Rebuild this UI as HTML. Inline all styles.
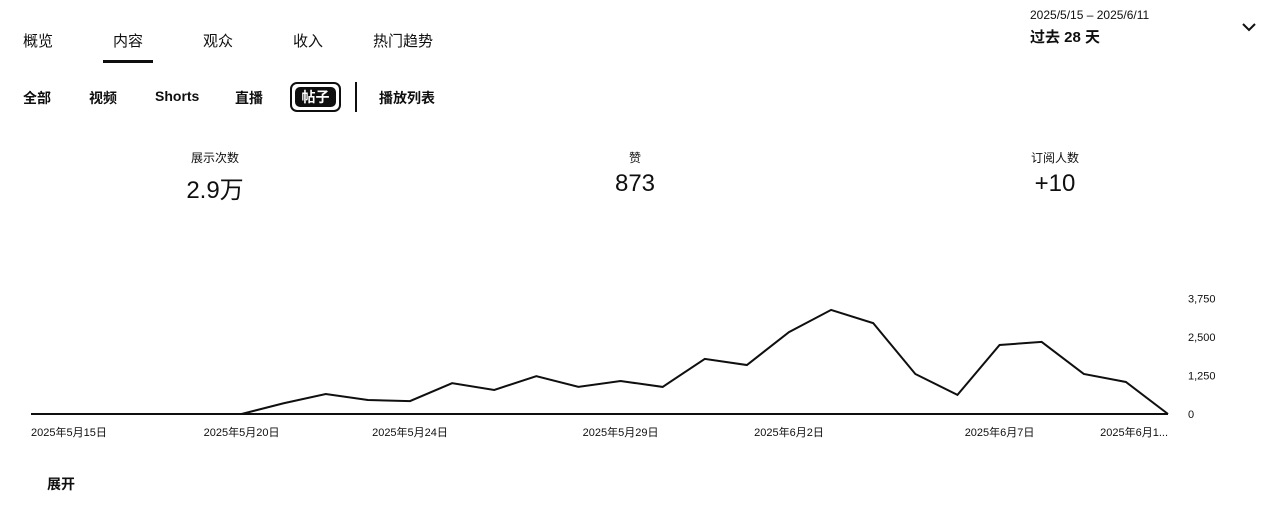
<!DOCTYPE html>
<html><head><meta charset="utf-8">
<style>
body{margin:0;width:1280px;height:509px;background:#fff;font-family:"Liberation Sans","Noto Sans CJK SC",sans-serif;color:#0f0f0f;position:relative;overflow:hidden}
.a{position:absolute;white-space:nowrap}
.tab{font-size:15px;top:30px}
.sub{font-size:14px;top:88px;font-weight:bold}
.lbl{font-size:12px;top:149px;transform:translateX(-50%)}
.val{font-size:24px;top:170px;transform:translateX(-50%)}
</style></head><body>
<div class="a tab" style="left:23px">概览</div>
<div class="a tab" style="left:113px">内容</div>
<div class="a" style="left:103px;top:60px;width:50px;height:3px;background:#0f0f0f"></div>
<div class="a tab" style="left:203px">观众</div>
<div class="a tab" style="left:293px">收入</div>
<div class="a tab" style="left:373px">热门趋势</div>
<div class="a" style="left:1030px;top:8px;font-size:12px">2025/5/15 – 2025/6/11</div>
<div class="a" style="left:1030px;top:26px;font-size:15px;font-weight:bold">过去 28 天</div>
<svg class="a" style="left:1242px;top:21px" width="14" height="12"><path d="M1 3 L7 9 L13 3" fill="none" stroke="#0f0f0f" stroke-width="2"/></svg>
<div class="a sub" style="left:23px">全部</div>
<div class="a sub" style="left:89px">视频</div>
<div class="a sub" style="left:155px">Shorts</div>
<div class="a sub" style="left:235px">直播</div>
<div class="a" style="left:290px;top:82px;width:47px;height:26px;border:2px solid #0f0f0f;border-radius:7px;background:#fff"><div style="position:absolute;left:3px;top:3px;right:3px;bottom:3px;background:#0f0f0f;border-radius:5px;color:#fff;font-size:14px;font-weight:bold;text-align:center;line-height:20px">帖子</div></div>
<div class="a" style="left:355px;top:82px;width:2px;height:30px;background:#0f0f0f"></div>
<div class="a sub" style="left:379px">播放列表</div>
<div class="a lbl" style="left:215px">展示次数</div>
<div class="a val" style="left:215px">2.9万</div>
<div class="a lbl" style="left:635px">赞</div>
<div class="a val" style="left:635px">873</div>
<div class="a lbl" style="left:1055px">订阅人数</div>
<div class="a val" style="left:1055px">+10</div>
<svg class="a" style="left:0;top:280px" width="1280" height="170" id="chart"></svg>
<div class="a" style="left:47px;top:474px;font-size:14px;font-weight:bold">展开</div>
<script>
const values=[0,0,0,0,0,0,350,650,455,420,1000,780,1230,880,1070,880,1790,1590,2660,3380,2950,1300,620,2240,2340,1300,1040,0];
const yTicks=[0,1250,2500,3750];
const yTickLabels=["0","1,250","2,500","3,750"];
const xTickIdx=[0,5,9,14,18,23,27];
const xTickLabels=["2025年5月15日","2025年5月20日","2025年5月24日","2025年5月29日","2025年6月2日","2025年6月7日","2025年6月1..."];
const NS="http://www.w3.org/2000/svg";
const svg=document.getElementById('chart');
const x0=31,x1=1168,yb=134,k=38.5/1250;
const X=i=>x0+(x1-x0)*i/(values.length-1);
const Y=v=>yb-v*k;
function mk(t,a){const e=document.createElementNS(NS,t);for(const n in a)e.setAttribute(n,a[n]);svg.appendChild(e);return e;}
const base=mk('line',{x1:x0,x2:x1,y1:yb,y2:yb,stroke:'#0f0f0f','stroke-width':2});


const line=mk('polyline',{points:values.map((v,i)=>X(i)+','+Y(v)).join(' '),fill:'none',stroke:'#0f0f0f','stroke-width':2,'stroke-linejoin':'miter'});


yTicks.forEach((v,i)=>{const t=mk('text',{x:1188,y:Y(v)+4,'font-size':11,fill:'#0f0f0f'});t.textContent=yTickLabels[i];

});
xTickIdx.forEach((idx,i)=>{const anchor=i==0?'start':(i==xTickIdx.length-1?'end':'middle');
const t=mk('text',{x:X(idx),y:156,'font-size':11,fill:'#0f0f0f','text-anchor':anchor});t.textContent=xTickLabels[i];

});
</script>
</body></html>
